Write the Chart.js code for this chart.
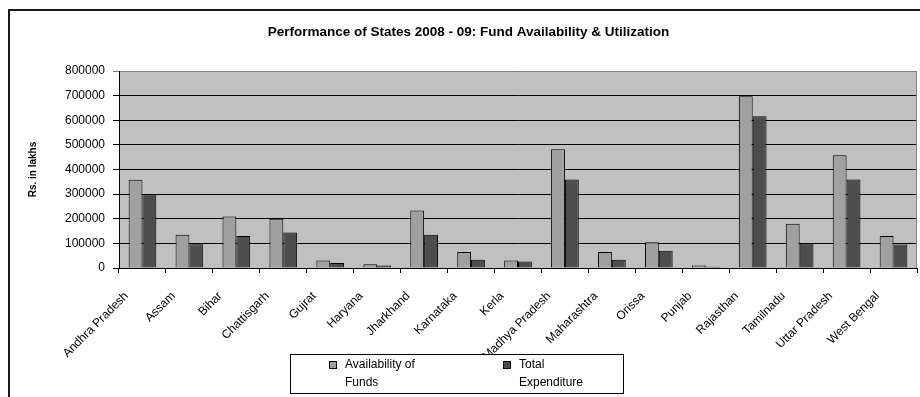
<!DOCTYPE html>
<html>
<head>
<meta charset="utf-8">
<title>Performance of States 2008 - 09</title>
<script src="https://cdn.jsdelivr.net/npm/chart.js@4.4.1/dist/chart.umd.min.js"></script>
<style>
  html, body { margin: 0; padding: 0; background: #fff; }
  #wrap { width: 920px; height: 397px; position: relative; }
</style>
</head>
<body>
<div id="wrap"><canvas id="c" width="920" height="397"></canvas></div>
<script>
// States and the two series (Rs. in lakhs)
const states = ['Andhra Pradesh', 'Assam', 'Bihar', 'Chattisgarh', 'Gujrat', 'Haryana',
  'Jharkhand', 'Karnataka', 'Kerla', 'Madhya Pradesh', 'Maharashtra', 'Orissa',
  'Punjab', 'Rajasthan', 'Tamilnadu', 'Uttar Pradesh', 'West Bengal'];
const availability = [358000, 135000, 209000, 200000, 30000, 15000, 234000, 65000, 30000,
  482000, 65000, 105000, 10000, 697000, 180000, 458000, 130000];
const expenditure = [299000, 96000, 130000, 144000, 20000, 10000, 135000, 34000, 26000,
  359000, 34000, 70000, 5000, 616000, 100000, 359000, 95000];
const yTickValues = [0, 100000, 200000, 300000, 400000, 500000, 600000, 700000, 800000];
const seriesNames = [['Availability of', 'Funds'], ['Total', 'Expenditure']];

const FONT = "'Liberation Sans', Arial, sans-serif";
const AVAIL_COLOR = '#a0a0a0';
const EXP_COLOR = '#4d4d4d';

// Grey plot area, outer frame, right border and the boxed two-line legend
const decor = {
  id: 'decor',
  beforeDraw(chart) {
    const { ctx, chartArea: a } = chart;
    ctx.save();
    ctx.fillStyle = '#c0c0c0';
    ctx.fillRect(a.left, a.top, a.right - a.left, a.bottom - a.top);
    ctx.strokeStyle = '#1a1a1a';
    ctx.lineWidth = 2;
    ctx.strokeRect(9, 10, 1000, 1000);
    ctx.restore();
  },
  beforeDatasetsDraw(chart) {
    const { ctx, chartArea: a } = chart;
    ctx.save();
    ctx.strokeStyle = '#808080';
    ctx.lineWidth = 1;
    ctx.beginPath();
    ctx.moveTo(Math.round(a.right) - 0.5, a.top);
    ctx.lineTo(Math.round(a.right) - 0.5, a.bottom);
    ctx.stroke();
    ctx.restore();
  },
  afterDraw(chart) {
    const { ctx } = chart;
    ctx.save();
    ctx.fillStyle = '#fff';
    ctx.fillRect(290, 354, 333, 39);
    ctx.strokeStyle = '#000';
    ctx.lineWidth = 1;
    ctx.strokeRect(290.5, 354.5, 333, 39);
    const entries = [
      { x: 329, color: chart.data.datasets[0].backgroundColor, lines: seriesNames[0] },
      { x: 503, color: chart.data.datasets[1].backgroundColor, lines: seriesNames[1] }
    ];
    ctx.font = '12px ' + FONT;
    ctx.textBaseline = 'middle';
    ctx.textAlign = 'left';
    entries.forEach(e => {
      ctx.fillStyle = e.color;
      ctx.fillRect(e.x, 361, 8, 8);
      ctx.strokeStyle = '#000';
      ctx.strokeRect(e.x + 0.5, 361.5, 7, 7);
      ctx.fillStyle = '#000';
      e.lines.forEach((t, i) => ctx.fillText(t, e.x + 16, 365 + i * 18));
    });
    ctx.restore();
  }
};

new Chart(document.getElementById('c'), {
  type: 'bar',
  data: {
    labels: states,
    datasets: [
      { label: seriesNames[0].join(' '), data: availability, backgroundColor: AVAIL_COLOR,
        borderColor: '#000', borderWidth: 1 },
      { label: seriesNames[1].join(' '), data: expenditure, backgroundColor: EXP_COLOR,
        borderColor: '#000', borderWidth: 1 }
    ]
  },
  options: {
    responsive: false,
    animation: false,
    layout: { padding: { left: 20, right: 3, top: 0, bottom: 0 } },
    datasets: { bar: { barPercentage: 1, categoryPercentage: 0.59 } },
    plugins: {
      legend: { display: false },
      tooltip: { enabled: false },
      title: {
        display: true,
        text: 'Performance of States 2008 - 09: Fund Availability & Utilization',
        color: '#000',
        font: { family: FONT, size: 13.5, weight: 'bold', lineHeight: 1.2 },
        padding: { top: 24, bottom: 30.8 }
      }
    },
    scales: {
      x: {
        offset: true,
        afterFit(s) { s.height = 129; },
        grid: { drawOnChartArea: false, offset: true, tickLength: 5, color: '#000' },
        border: { color: '#000', width: 1 },
        ticks: {
          autoSkip: false, minRotation: 45, maxRotation: 45,
          padding: 16, labelOffset: -16,
          color: '#000', font: { family: FONT, size: 12 }
        }
      },
      y: {
        min: 0, max: 800000,
        afterFit(s) { s.width = 99; },
        afterBuildTicks(s) { s.ticks = yTickValues.map(v => ({ value: v })); },
        grid: {
          tickLength: 6,
          color: c => (c.tick && c.tick.value === 800000) ? '#808080' : '#000'
        },
        border: { color: '#000', width: 1 },
        ticks: {
          padding: 8, color: '#000', font: { family: FONT, size: 12 },
          callback: v => String(v)
        },
        title: {
          display: true, text: 'Rs. in lakhs', color: '#000',
          font: { family: FONT, size: 10, weight: 'bold', lineHeight: 1.2 },
          padding: { top: 7, bottom: 0 }
        }
      }
    }
  },
  plugins: [decor]
});
</script>
</body>
</html>
